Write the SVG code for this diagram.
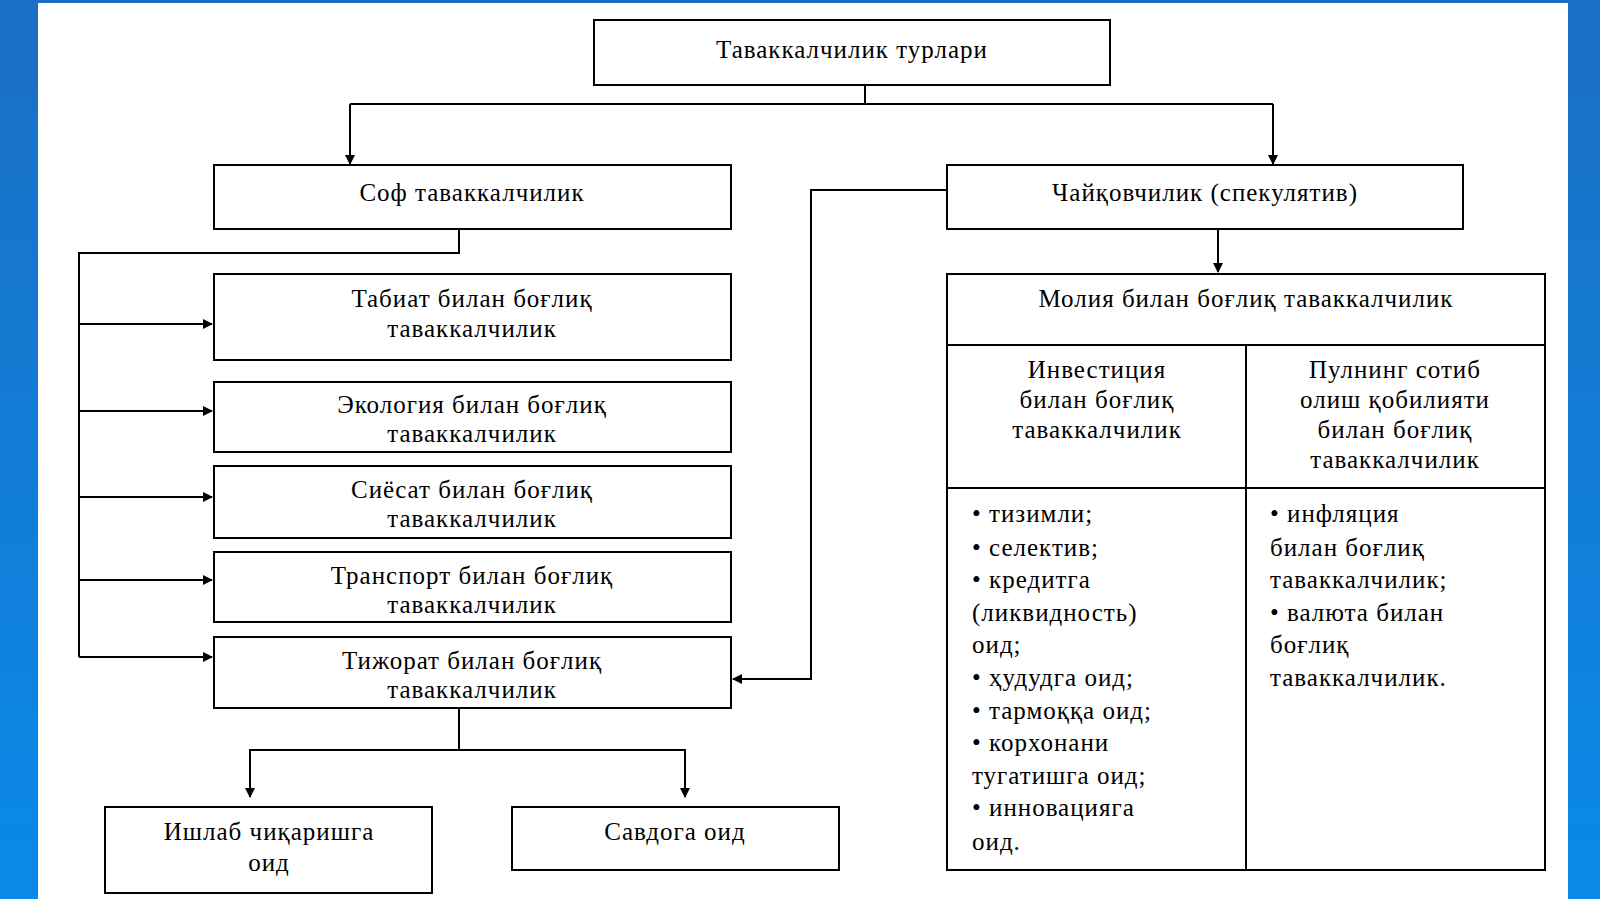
<svg xmlns="http://www.w3.org/2000/svg" width="1600" height="899" viewBox="0 0 1600 899">
<style>
.b{fill:#fff;stroke:#000;stroke-width:2}
.l{fill:none;stroke:#000;stroke-width:2}
text{font-family:"Liberation Serif","DejaVu Serif",serif;font-size:25px;fill:#000;letter-spacing:1px}
.c{text-anchor:middle}
</style>
<defs><marker id="a" markerWidth="10" markerHeight="10" refX="9" refY="5" orient="auto" markerUnits="userSpaceOnUse"><path d="M0,0L10,5L0,10z" fill="#000"/></marker>
<linearGradient id="bg" x1="0" y1="0" x2="0" y2="1"><stop offset="0" stop-color="#1a6fc4"/><stop offset="1" stop-color="#0a8ae8"/></linearGradient></defs>
<rect width="1600" height="899" fill="url(#bg)"/>
<rect x="38" y="3" width="1530" height="896" fill="#fff"/>
<g id="connectors">
<path class="l" d="M865,85V104M350,104H1273M350,104V164" marker-end="url(#a)"/>
<path class="l" d="M1273,104V164" marker-end="url(#a)"/>
<path class="l" d="M459,229V253H79V657"/>
<path class="l" d="M79,324H212" marker-end="url(#a)"/>
<path class="l" d="M79,411H212" marker-end="url(#a)"/>
<path class="l" d="M79,497H212" marker-end="url(#a)"/>
<path class="l" d="M79,580H212" marker-end="url(#a)"/>
<path class="l" d="M79,657H212" marker-end="url(#a)"/>
<path class="l" d="M947,190H811V679H733" marker-end="url(#a)"/>
<path class="l" d="M1218,229V272" marker-end="url(#a)"/>
<path class="l" d="M459,708V750H250V797" marker-end="url(#a)"/>
<path class="l" d="M459,750H685V797" marker-end="url(#a)"/>
</g>
<g id="n0"><rect class="b" x="594" y="20" width="516" height="65"/><text class="c" x="852" y="58">Таваккалчилик турлари</text></g>
<g id="n1"><rect class="b" x="214" y="165" width="517" height="64"/><text class="c" x="472" y="201">Соф таваккалчилик</text></g>
<g id="n2"><rect class="b" x="947" y="165" width="516" height="64"/><text class="c" x="1205" y="201">Чайқовчилик (спекулятив)</text></g>
<g id="n3"><rect class="b" x="214" y="274" width="517" height="86"/><text class="c" x="472" y="307">Табиат билан боғлиқ</text><text class="c" x="472" y="337">таваккалчилик</text></g>
<g id="n4"><rect class="b" x="214" y="382" width="517" height="70"/><text class="c" x="472" y="413">Экология билан боғлиқ</text><text class="c" x="472" y="442">таваккалчилик</text></g>
<g id="n5"><rect class="b" x="214" y="466" width="517" height="72"/><text class="c" x="472" y="498">Сиёсат билан боғлиқ</text><text class="c" x="472" y="527">таваккалчилик</text></g>
<g id="n6"><rect class="b" x="214" y="552" width="517" height="70"/><text class="c" x="472" y="584">Транспорт билан боғлиқ</text><text class="c" x="472" y="613">таваккалчилик</text></g>
<g id="n7"><rect class="b" x="214" y="637" width="517" height="71"/><text class="c" x="472" y="669">Тижорат билан боғлиқ</text><text class="c" x="472" y="698">таваккалчилик</text></g>
<g id="n8"><rect class="b" x="105" y="807" width="327" height="86"/><text class="c" x="269" y="840">Ишлаб чиқаришга</text><text class="c" x="269" y="871">оид</text></g>
<g id="n9"><rect class="b" x="512" y="807" width="327" height="63"/><text class="c" x="675" y="840">Савдога оид</text></g>
<g id="n10">
<rect class="b" x="947" y="274" width="598" height="596"/>
<path class="l" d="M947,345H1545M947,488H1545M1246,345V870"/>
<text class="c" x="1246" y="307">Молия билан боғлиқ таваккалчилик</text>
<text class="c" x="1097" y="378">Инвестиция</text><text class="c" x="1097" y="408">билан боғлиқ</text><text class="c" x="1097" y="438">таваккалчилик</text>
<text class="c" x="1395" y="378">Пулнинг сотиб</text><text class="c" x="1395" y="408">олиш қобилияти</text><text class="c" x="1395" y="438">билан боғлиқ</text><text class="c" x="1395" y="468">таваккалчилик</text>
<text x="972" y="522">• тизимли;</text>
<text x="972" y="556">• селектив;</text>
<text x="972" y="588">• кредитга</text>
<text x="972" y="621">(ликвидность)</text>
<text x="972" y="653">оид;</text>
<text x="972" y="686">• ҳудудга оид;</text>
<text x="972" y="719">• тармоққа оид;</text>
<text x="972" y="751">• корхонани</text>
<text x="972" y="784">тугатишга оид;</text>
<text x="972" y="816">• инновацияга</text>
<text x="972" y="850">оид.</text>
<text x="1270" y="522">• инфляция</text>
<text x="1270" y="556">билан боғлиқ</text>
<text x="1270" y="588">таваккалчилик;</text>
<text x="1270" y="621">• валюта билан</text>
<text x="1270" y="653">боғлиқ</text>
<text x="1270" y="686">таваккалчилик.</text>
</g>
</svg>
